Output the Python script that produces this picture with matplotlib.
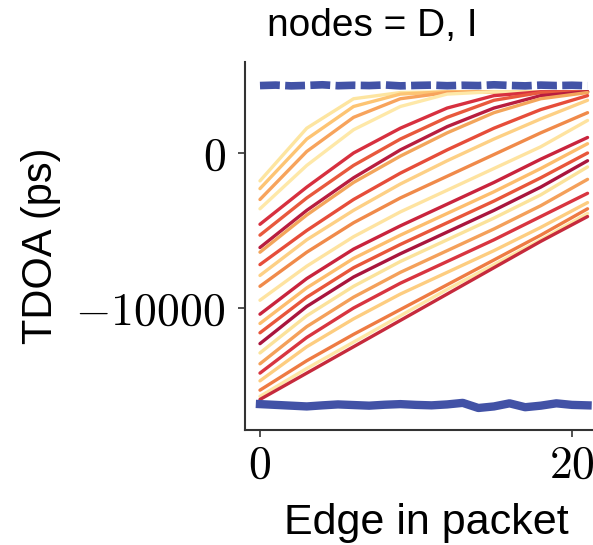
import numpy as np
import matplotlib
matplotlib.use("Agg")
import matplotlib.pyplot as plt

plt.rcParams['font.family'] = ['Liberation Sans', 'DejaVu Sans']
plt.rcParams['mathtext.fontset'] = 'cm'

title = "nodes = D, I"
xlabel = "Edge in packet"
ylabel = "TDOA (ps)"

edges = [0, 3, 6, 9, 12, 15, 18, 21]

# TDOA curves (ps), one per packet
curves = [
    [-1800, 1600, 3500, 3900, 3950, 3950, 3950, 3950],
    [-2300, 900, 3000, 3800, 3950, 3950, 3950, 3950],
    [-3000, 100, 2300, 3500, 3900, 3950, 3950, 3950],
    [-3600, -800, 1500, 3000, 3800, 3950, 3950, 3950],
    [-4600, -2200, 0, 1600, 2900, 3700, 3950, 3950],
    [-5300, -2900, -800, 900, 2300, 3400, 3900, 3950],
    [-6100, -3700, -1600, 200, 1700, 2900, 3700, 3950],
    [-6400, -4000, -1900, -200, 1300, 2600, 3500, 3900],
    [-7200, -5000, -3000, -1300, 200, 1600, 2800, 3700],
    [-7900, -5600, -3700, -2000, -500, 900, 2200, 3400],
    [-8600, -6400, -4500, -2900, -1500, -100, 1300, 2600],
    [-9500, -7300, -5400, -3800, -2400, -1000, 400, 2100],
    [-10400, -8100, -6200, -4700, -3300, -1900, -400, 1000],
    [-11000, -8700, -6800, -5300, -3900, -2500, -1000, 600],
    [-11600, -9300, -7400, -5900, -4500, -3100, -1600, 0],
    [-12300, -9900, -8000, -6500, -5100, -3700, -2200, -500],
    [-12900, -10500, -8600, -7000, -5600, -4200, -2700, -900],
    [-13600, -11200, -9300, -7700, -6300, -4900, -3400, -1700],
    [-14200, -11900, -10000, -8400, -7000, -5600, -4100, -2600],
    [-14700, -12500, -10700, -9100, -7700, -6300, -4800, -3200],
    [-15300, -13400, -11700, -10100, -8500, -6900, -5300, -3600],
    [-15700, -13900, -12200, -10500, -8800, -7200, -5600, -3900],
    [-15900, -14200, -12500, -10800, -9100, -7400, -5700, -4100],
]
curve_colors = [
    "#fde5a0", "#fdc473", "#f7a35c", "#fee8a8", "#d7303f", "#e8593d",
    "#b81d3f", "#f3a55b", "#e64d3a", "#fdd085", "#f08a4a", "#fee3a0",
    "#c9243d", "#fdbd6d", "#e8563b", "#a9153d", "#fbe29a", "#f4a05a",
    "#d83540", "#fdcd80", "#ee7b43", "#fee6a5", "#c62a3c",
]

# reference nodes (flat traces)
ref_edges = list(range(22))
ref_top = [4350, 4380, 4330, 4360, 4400, 4340, 4370, 4350, 4390, 4330, 4360,
           4380, 4340, 4370, 4350, 4400, 4360, 4330, 4380, 4350, 4370, 4340]
ref_bottom = [-16200, -16250, -16300, -16350, -16280, -16220, -16260, -16300,
              -16240, -16200, -16250, -16280, -16220, -16120, -16450, -16350,
              -16150, -16400, -16300, -16150, -16250, -16280]

fig = plt.figure(figsize=(5.93, 5.45), dpi=100)
ax = fig.add_axes([245/593, 115/545, 1 - 245/593, 368/545])

for c, col in zip(curves, curve_colors):
    ax.plot(edges, c, color=col, lw=2.4, solid_capstyle='round')

ax.plot(ref_edges, ref_bottom, color="#4252a6", lw=6)
ax.plot(ref_edges, ref_top, color="#4252a6", lw=5.5, ls=(0, (2.6, 0.7)))

ax.set_xlim(-0.96, 21.35)
ax.set_ylim(-17870, 5870)
ax.set_xticks([0, 20])
ax.set_xticklabels([r"$0$", r"$20$"])
ax.set_yticks([0, -10000])
ax.set_yticklabels([r"$0$", r"$-10000$"])
ax.tick_params(labelsize=33, length=5, width=1.2, color="#333333")
ax.tick_params(axis='y', pad=9)
ax.tick_params(axis='x', pad=5)
for s in ["top", "right"]:
    ax.spines[s].set_visible(False)
for s in ["left", "bottom"]:
    ax.spines[s].set_linewidth(1.5)
    ax.spines[s].set_color("#333333")

ax.set_xlabel(xlabel, fontsize=31)
ax.xaxis.set_label_coords((426 - 245) / 348, -0.198)
ax.set_ylabel(ylabel, fontsize=30)
ax.yaxis.set_label_coords(-0.53, 0.5)
ax.set_title(title, fontsize=28, x=(372 - 245) / 348, pad=19)

fig.savefig("out.png", dpi=100)
